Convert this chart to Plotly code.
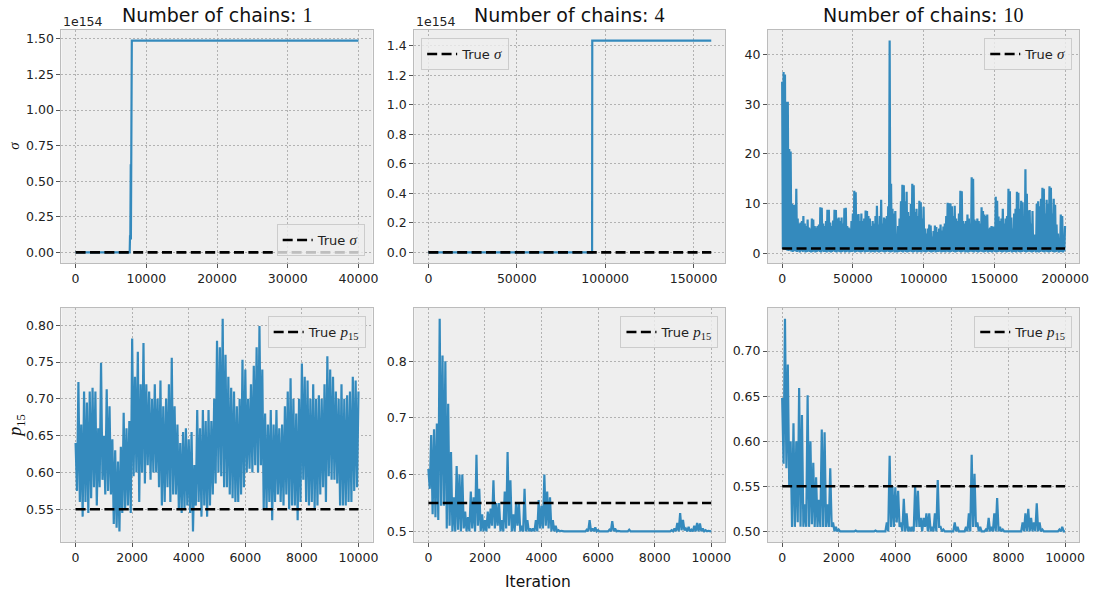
import numpy as np
import plotly.graph_objects as go

# ---------------- data ----------------
chains = [1, 4, 10]
SIGMA_UNIT = 1e154          # offset shown as "1e154" on the first two sigma panels
sigma_unit_txt = "1e154"
true_sigma = 1.0
true_p15 = 0.55
n_iter_sigma = [40000, 160000, 200000]
n_iter_p15 = [10000, 10000, 10000]

# sigma traces, 1 and 4 chains (values in units of 1e154)
sigma1_iter = [0, 7650, 7700, 7720, 7740, 7760, 7780, 7800, 7820, 7840, 7860, 7880, 7900, 7950, 40000]
sigma1_e154 = [0, 0, 0.12, 0.45, 0.10, 0.55, 0.20, 0.62, 0.09, 0.50, 0.15, 0.35, 0.10, 1.488, 1.488]
sigma4_iter = [0, 92600, 92700, 160000]
sigma4_e154 = [0, 0, 1.434, 1.434]

# sigma trace, 10 chains: per-1000-iteration peak and trough readings
sigma10_step = 1000
sigma10_high = [34.5, 36.5, 36, 30.5, 30.5, 21, 20.5, 10, 9.8, 9.8,
                13, 7, 6, 6.2, 6.5, 7.5, 6, 5.5, 6.8, 5.2,
                5, 7, 6.8, 5.5, 5.2, 5.5, 5.8, 9.3, 9.2, 6,
                5.5, 6.5, 8.8, 8.8, 6.2, 5.5, 6.6, 8.8, 8.7, 7,
                7.2, 6.5, 7.2, 6, 9.1, 9.2, 5.5, 5.2, 5, 6.5,
                8, 12.6, 12.3, 7.8, 7.9, 6.5, 8, 6.5, 7, 8.6,
                8.5, 7.5, 7, 5.5, 6.5, 6, 7.5, 9.6, 5.8, 7.5,
                10.8, 6, 7.2, 7, 7.5, 9.5, 42.8, 14, 9, 8,
                8.5, 3, 5.5, 7, 10.5, 13.8, 13.7, 10.5, 12.4, 8.3,
                7.5, 10, 14, 13.7, 8.3, 9, 7.5, 10.6, 10.3, 7,
                9.4, 5, 4, 5, 5.8, 5.6, 3.4, 4.5, 5.6, 5.3,
                4.3, 5, 5.8, 4.6, 5.4, 6, 7.5, 10.2, 10.1, 10.1,
                9.5, 7.5, 9.6, 7, 6.5, 8, 12.6, 12.5, 6.5, 6,
                6.5, 7.8, 7, 6, 15.3, 15, 6.8, 6.5, 7, 6.5,
                6, 9.3, 8.5, 7.8, 7.5, 7.8, 5, 5.2, 5.5, 5.4,
                5.3, 11.4, 10.6, 7.4, 6.5, 7, 9, 6, 7, 7.5,
                13, 12.5, 7.2, 5, 8, 9, 12.4, 12.2, 9, 10.6,
                10.3, 7, 16.9, 12, 8.6, 8.7, 6, 8.5, 3.8, 3.8,
                10, 10.5, 9.5, 11, 13.2, 13, 8, 10.8, 10, 13.5,
                13.2, 8, 11, 9.8, 5.8, 4, 0.8, 7.8, 7.5, 3,
                5.5]
sigma10_low = [0.9, 0.8, 0.7, 0.6, 0.5, 0.6, 0.4, 0.3, 0.5, 0.4,
               0.3, 0.4, 0.2, 0.5, 0.3, 0.4, 0.2, 0.3, 0.4, 0.3,
               0.2, 0.3, 0.4, 0.2, 0.3, 0.5, 0.3, 0.2, 0.4, 0.3,
               0.3, 0.2, 0.4, 0.3, 0.2, 0.3, 0.5, 0.3, 0.2, 0.4,
               0.3, 0.2, 0.3, 0.4, 0.2, 0.3, 0.4, 0.2, 0.3, 0.3,
               0.4, 0.2, 0.3, 0.4, 0.3, 0.2, 0.3, 0.4, 0.2, 0.3,
               0.3, 0.4, 0.2, 0.3, 0.3, 0.2, 0.4, 0.3, 0.2, 0.3,
               0.4, 0.3, 0.2, 0.3, 0.4, 0.3, 0.2, 0.3, 0.4, 0.2,
               0.3, 0.2, 0.3, 0.4, 0.3, 0.2, 0.4, 0.3, 0.2, 0.3,
               0.4, 0.3, 0.2, 0.3, 0.4, 0.2, 0.3, 0.3, 0.2, 0.4,
               0.3, 0.2, 0.3, 0.4, 0.3, 0.2, 0.3, 0.4, 0.2, 0.3,
               0.3, 0.4, 0.2, 0.3, 0.3, 0.2, 0.4, 0.3, 0.2, 0.3,
               0.4, 0.3, 0.2, 0.3, 0.4, 0.3, 0.2, 0.3, 0.4, 0.2,
               0.3, 0.2, 0.3, 0.4, 0.3, 0.2, 0.4, 0.3, 0.2, 0.3,
               0.4, 0.3, 0.2, 0.3, 0.4, 0.2, 0.3, 0.3, 0.2, 0.4,
               0.3, 0.2, 0.3, 0.4, 0.3, 0.2, 0.3, 0.4, 0.2, 0.3,
               0.3, 0.4, 0.2, 0.3, 0.3, 0.2, 0.4, 0.3, 0.2, 0.3,
               0.4, 0.3, 0.2, 0.3, 0.4, 0.3, 0.2, 0.3, 0.4, 0.2,
               0.3, 0.2, 0.3, 0.4, 0.3, 0.2, 0.4, 0.3, 0.2, 0.3,
               0.4, 0.3, 0.2, 0.3, 0.4, 0.2, 0.3, 0.3, 0.2, 0.4,
               0.3]

# p15 traces: per-100-iteration peak and trough readings
p15_step = 100
p15_c1_high = [0.64, 0.723, 0.665, 0.71, 0.695, 0.71, 0.715, 0.71, 0.66, 0.749,
               0.65, 0.713, 0.69, 0.645, 0.63, 0.615, 0.635, 0.681, 0.66, 0.67,
               0.782, 0.73, 0.764, 0.72, 0.776, 0.72, 0.71, 0.70, 0.72, 0.70,
               0.725, 0.69, 0.70, 0.72, 0.756, 0.69, 0.665, 0.64, 0.655, 0.66,
               0.645, 0.655, 0.61, 0.685, 0.66, 0.685, 0.67, 0.685, 0.67, 0.70,
               0.779, 0.77, 0.809, 0.76, 0.73, 0.715, 0.71, 0.69, 0.70, 0.753,
               0.74, 0.70, 0.72, 0.745, 0.77, 0.799, 0.74, 0.68, 0.665, 0.685,
               0.665, 0.685, 0.66, 0.665, 0.69, 0.71, 0.728, 0.70, 0.68, 0.70,
               0.748, 0.73, 0.725, 0.70, 0.72, 0.70, 0.705, 0.70, 0.72, 0.758,
               0.74, 0.73, 0.71, 0.70, 0.72, 0.70, 0.705, 0.71, 0.73, 0.725,
               0.71]
p15_c1_low = [0.575, 0.56, 0.54, 0.56, 0.545, 0.565, 0.58, 0.555, 0.58, 0.59,
              0.57, 0.575, 0.57, 0.53, 0.525, 0.52, 0.545, 0.55, 0.555, 0.545,
              0.595, 0.60, 0.56, 0.60, 0.585, 0.61, 0.59, 0.60, 0.60, 0.58,
              0.555, 0.56, 0.58, 0.56, 0.57, 0.57, 0.55, 0.545, 0.55, 0.555,
              0.545, 0.52, 0.555, 0.56, 0.54, 0.555, 0.54, 0.555, 0.57, 0.585,
              0.60, 0.595, 0.58, 0.58, 0.57, 0.565, 0.56, 0.56, 0.57, 0.58,
              0.60, 0.605, 0.60, 0.61, 0.60, 0.61, 0.55, 0.55, 0.56, 0.535,
              0.56, 0.57, 0.56, 0.555, 0.57, 0.55, 0.555, 0.555, 0.535, 0.56,
              0.59, 0.56, 0.555, 0.56, 0.55, 0.555, 0.57, 0.58, 0.56, 0.595,
              0.59, 0.59, 0.585, 0.555, 0.555, 0.555, 0.56, 0.56, 0.575, 0.58,
              0.595]
p15_c4_high = [0.61, 0.67, 0.68, 0.69, 0.875, 0.81, 0.80, 0.725, 0.64, 0.56,
               0.615, 0.60, 0.60, 0.535, 0.525, 0.57, 0.56, 0.635, 0.575, 0.53,
               0.52, 0.535, 0.54, 0.59, 0.55, 0.55, 0.52, 0.57, 0.64, 0.59,
               0.53, 0.55, 0.55, 0.51, 0.575, 0.52, 0.505, 0.505, 0.52, 0.555,
               0.545, 0.60, 0.57, 0.56, 0.52, 0.51, 0.502, 0.501, 0.50, 0.50,
               0.50, 0.50, 0.50, 0.50, 0.50, 0.501, 0.503, 0.52, 0.505, 0.507,
               0.502, 0.50, 0.50, 0.501, 0.503, 0.518, 0.505, 0.501, 0.50, 0.50,
               0.50, 0.503, 0.50, 0.50, 0.50, 0.50, 0.50, 0.501, 0.50, 0.50,
               0.50, 0.50, 0.50, 0.50, 0.50, 0.501, 0.502, 0.505, 0.515, 0.532,
               0.52, 0.505, 0.508, 0.503, 0.51, 0.515, 0.514, 0.505, 0.502, 0.501,
               0.50]
p15_c4_low = [0.575, 0.53, 0.525, 0.52, 0.545, 0.545, 0.505, 0.51, 0.50, 0.50,
              0.503, 0.50, 0.505, 0.50, 0.50, 0.505, 0.50, 0.51, 0.50, 0.50,
              0.50, 0.505, 0.51, 0.505, 0.51, 0.50, 0.50, 0.505, 0.51, 0.50,
              0.50, 0.51, 0.50, 0.50, 0.50, 0.50, 0.50, 0.50, 0.50, 0.505,
              0.505, 0.51, 0.505, 0.50, 0.50, 0.50, 0.50, 0.50, 0.50, 0.50,
              0.50, 0.50, 0.50, 0.50, 0.50, 0.50, 0.50, 0.50, 0.50, 0.50,
              0.50, 0.50, 0.50, 0.50, 0.50, 0.50, 0.50, 0.50, 0.50, 0.50,
              0.50, 0.50, 0.50, 0.50, 0.50, 0.50, 0.50, 0.50, 0.50, 0.50,
              0.50, 0.50, 0.50, 0.50, 0.50, 0.50, 0.50, 0.50, 0.50, 0.502,
              0.502, 0.50, 0.50, 0.50, 0.50, 0.50, 0.50, 0.50, 0.50, 0.50,
              0.50]
p15_c10_high = [0.648, 0.736, 0.685, 0.60, 0.62, 0.60, 0.659, 0.629, 0.53, 0.651,
                0.60, 0.576, 0.56, 0.535, 0.613, 0.61, 0.53, 0.57, 0.51, 0.505,
                0.502, 0.50, 0.50, 0.50, 0.50, 0.50, 0.501, 0.50, 0.50, 0.50,
                0.50, 0.50, 0.50, 0.501, 0.50, 0.50, 0.50, 0.51, 0.584, 0.55,
                0.549, 0.545, 0.51, 0.536, 0.52, 0.505, 0.505, 0.55, 0.545, 0.515,
                0.515, 0.52, 0.52, 0.505, 0.52, 0.557, 0.505, 0.502, 0.50, 0.50,
                0.50, 0.51, 0.505, 0.50, 0.50, 0.505, 0.52, 0.585, 0.564, 0.51,
                0.505, 0.50, 0.502, 0.515, 0.505, 0.52, 0.537, 0.505, 0.502, 0.50,
                0.50, 0.50, 0.50, 0.50, 0.50, 0.51, 0.52, 0.525, 0.515, 0.51,
                0.531, 0.51, 0.502, 0.50, 0.50, 0.50, 0.50, 0.50, 0.502, 0.505,
                0.50]
p15_c10_low = [0.575, 0.57, 0.55, 0.505, 0.505, 0.51, 0.505, 0.505, 0.505, 0.505,
               0.508, 0.505, 0.505, 0.505, 0.505, 0.505, 0.505, 0.505, 0.50, 0.50,
               0.50, 0.50, 0.50, 0.50, 0.50, 0.50, 0.50, 0.50, 0.50, 0.50,
               0.50, 0.50, 0.50, 0.50, 0.50, 0.50, 0.50, 0.50, 0.505, 0.505,
               0.51, 0.505, 0.50, 0.50, 0.50, 0.50, 0.50, 0.505, 0.505, 0.50,
               0.505, 0.50, 0.50, 0.50, 0.50, 0.505, 0.50, 0.50, 0.50, 0.50,
               0.50, 0.50, 0.50, 0.50, 0.50, 0.50, 0.50, 0.505, 0.505, 0.50,
               0.50, 0.50, 0.50, 0.50, 0.50, 0.50, 0.50, 0.50, 0.50, 0.50,
               0.50, 0.50, 0.50, 0.50, 0.50, 0.50, 0.50, 0.50, 0.50, 0.50,
               0.50, 0.50, 0.50, 0.50, 0.50, 0.50, 0.50, 0.50, 0.50, 0.50,
               0.50]


def zigzag(step, high, low):
    it = np.arange(len(high)) * step
    x = np.column_stack([it, it + step / 2]).ravel()[:-1]
    y = np.column_stack([high, low]).ravel()[:-1]
    return x, y


# ---------------- layout geometry (pixels) ----------------
W, H = 1109, 597
BLUE = "#348ABD"
SANS = "DejaVu Sans"
SERIF = "Liberation Serif"
cols_px = [(62, 376), (418, 732), (775, 1089)]
rows_px = [(30, 263), (308, 542)]

fig = go.Figure()

x1, y1 = sigma1_iter, sigma1_e154
x2, y2 = sigma4_iter, sigma4_e154
x3, y3 = zigzag(sigma10_step, sigma10_high, sigma10_low)
x4, y4 = zigzag(p15_step, p15_c1_high, p15_c1_low)
x5, y5 = zigzag(p15_step, p15_c4_high, p15_c4_low)
x6, y6 = zigzag(p15_step, p15_c10_high, p15_c10_low)
panels = [
    dict(x=x1, y=y1, n=n_iter_sigma[0], truth=true_sigma / SIGMA_UNIT, kind="s", xd=10000, yd=0.25, yf=".2f"),
    dict(x=x2, y=y2, n=n_iter_sigma[1], truth=true_sigma / SIGMA_UNIT, kind="s", xd=50000, yd=0.2, yf=".1f"),
    dict(x=x3, y=y3, n=n_iter_sigma[2], truth=true_sigma, kind="s", xd=50000, yd=10, yf="d"),
    dict(x=x4, y=y4, n=n_iter_p15[0], truth=true_p15, kind="p", xd=2000, yd=0.05, yf=".2f"),
    dict(x=x5, y=y5, n=n_iter_p15[1], truth=true_p15, kind="p", xd=2000, yd=0.1, yf=".1f"),
    dict(x=x6, y=y6, n=n_iter_p15[2], truth=true_p15, kind="p", xd=2000, yd=0.05, yf=".2f"),
]

sig_lbl = f'True <span style="font-family:{SERIF};font-size:15px"><i>σ</i></span>'
p_lbl = f'True <span style="font-family:{SERIF};font-size:15px"><i>p</i><sub>15</sub></span>'

# legend box placement: (anchor x px, anchor y px, xanchor, yanchor)
legend_pos = [(368, 256, "right", "bottom"), (425, 38, "left", "top"), (1082, 38, "right", "top"),
              (369, 316, "right", "top"), (725, 316, "right", "top"), (1082, 316, "right", "top")]

for i, p in enumerate(panels):
    r, c = divmod(i, 3)
    sfx = "" if i == 0 else str(i + 1)
    xa, ya = "x" + sfx, "y" + sfx
    lg = "legend" + sfx
    fig.add_trace(go.Scatter(x=p["x"], y=p["y"], mode="lines", xaxis=xa, yaxis=ya,
                             line=dict(color=BLUE, width=2.2), showlegend=False, hoverinfo="skip"))
    fig.add_trace(go.Scatter(x=[0, p["n"]], y=[p["truth"], p["truth"]], mode="lines",
                             xaxis=xa, yaxis=ya, legend=lg,
                             name=sig_lbl if p["kind"] == "s" else p_lbl,
                             line=dict(color="black", width=2.6, dash="10px,4.4px")))
    ymin = min(min(p["y"]), p["truth"])
    ymax = max(max(p["y"]), p["truth"])
    yr = [ymin - 0.05 * (ymax - ymin), ymax + 0.05 * (ymax - ymin)]
    xr = [-0.05 * p["n"], 1.05 * p["n"]]
    axcommon = dict(showline=True, mirror=True, linecolor="#bcbcbc", linewidth=1,
                    showgrid=True, gridcolor="#b2b2b2", gridwidth=0.8, griddash="2px,2px",
                    zeroline=False, ticks="outside", ticklen=4, tickwidth=1, tickcolor="#555",
                    tickfont=dict(family=SANS, size=12.5, color="#222"))
    cx0, cx1 = cols_px[c]
    ry0, ry1 = rows_px[r]
    fig.layout["xaxis" + sfx] = dict(domain=[cx0 / W, cx1 / W], range=xr, anchor=ya,
                                     tick0=0, dtick=p["xd"], tickformat="d", **axcommon)
    fig.layout["yaxis" + sfx] = dict(domain=[1 - ry1 / H, 1 - ry0 / H], range=yr, anchor=xa,
                                     tick0=0, dtick=p["yd"], tickformat=p["yf"], **axcommon)
    lx, ly, xan, yan = legend_pos[i]
    fig.layout[lg] = dict(x=lx / W, y=1 - ly / H, xanchor=xan, yanchor=yan,
                          bgcolor="rgba(238,238,238,0.8)", bordercolor="#cccccc", borderwidth=1,
                          font=dict(family=SANS, size=13, color="#222"), itemwidth=30,
                          tracegroupgap=0)

annotations = []
for c, n in enumerate(chains):
    cx0, cx1 = cols_px[c]
    annotations.append(dict(x=(cx0 + cx1) / 2 / W, y=1 - 15 / H, xref="paper", yref="paper",
                            text=f'Number of chains: <span style="font-family:{SERIF};font-size:20px">{n}</span>',
                            showarrow=False, xanchor="center", yanchor="middle",
                            font=dict(family=SANS, size=19, color="#111")))
for c in range(2):
    annotations.append(dict(x=cols_px[c][0] / W, y=1 - 22 / H, xref="paper", yref="paper",
                            text=sigma_unit_txt, showarrow=False,
                            xanchor="left", yanchor="middle",
                            font=dict(family=SANS, size=12.5, color="#222")))
annotations.append(dict(x=14 / W, y=1 - 146 / H, xref="paper", yref="paper", text="<i>σ</i>",
                        showarrow=False, textangle=-90, xanchor="center", yanchor="middle",
                        font=dict(family=SERIF, size=15, color="#111")))
annotations.append(dict(x=16 / W, y=1 - 426 / H, xref="paper", yref="paper",
                        text="<i>p</i><sub>15</sub>", showarrow=False, textangle=-90,
                        xanchor="center", yanchor="middle",
                        font=dict(family=SERIF, size=18, color="#111")))
annotations.append(dict(x=543 / W, y=1 - 582 / H, xref="paper", yref="paper", text="Iteration",
                        showarrow=False, xanchor="center", yanchor="middle",
                        font=dict(family=SANS, size=15.5, color="#111")))

fig.update_layout(width=W, height=H, margin=dict(l=0, r=0, t=0, b=0),
                  paper_bgcolor="white", plot_bgcolor="#eeeeee",
                  annotations=annotations, font=dict(family=SANS))

fig.write_html("out.html", config={"displayModeBar": False},
               post_script="document.body.style.margin='0';document.body.style.padding='0';")
